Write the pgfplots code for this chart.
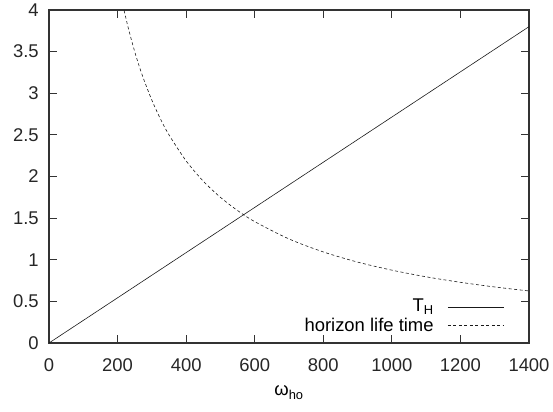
\documentclass[border=0pt]{standalone}
\usepackage{fontspec}
\setmainfont{Liberation Sans}
\usepackage{pgfplots}
\usetikzlibrary{calc}
\pgfplotsset{compat=1.18}
\begin{document}
\fontsize{18.5}{22}\selectfont
\begin{tikzpicture}
\begin{axis}[
  scale only axis,
  width=480bp, height=333bp,
  xmin=0, xmax=1400, ymin=0, ymax=4,
  xtick={0,200,...,1400},
  ytick={0,0.5,...,4},
  yticklabels={0,0.5,1,1.5,2,2.5,3,3.5,4},
  tick align=inside,
  major tick length=8bp,
  every tick/.style={line width=0.9pt, color=black!80},
  axis line style={line width=1.2pt, color=black!80},
  /pgf/number format/assume math mode=true,
  /pgf/number format/1000 sep={},
  tick label style={font=\fontsize{18.5}{22}\selectfont, text=black!85},
  xticklabel style={yshift=-9bp},
  yticklabel style={xshift=-4bp},
  xlabel={ω\textsubscript{ho}},
  xlabel style={font=\fontsize{18.5}{22}\selectfont, yshift=-2bp},
  legend style={draw=none, fill=none, at={(0.955,0.015)}, anchor=south east,
    font=\fontsize{18.5}{22}\selectfont, row sep=-1bp},
  legend cell align=right,
  legend plot pos=right,
  legend image code/.code={\draw[#1] (0bp,0bp) -- (56bp,0bp);},
]
\addplot[black!90, line width=0.6pt] coordinates {(0,0) (1400,3.8)};
\addlegendentry{T\textsubscript{H}\kern12bp}
\addplot[black!90, line width=0.6pt, dash pattern=on 3pt off 2.5pt, smooth] coordinates {
(219,3.995) (230,3.804) (240,3.646) (250,3.5) (260,3.365) (275,3.182) (300,2.917)
(325,2.692) (350,2.5) (400,2.1875) (450,1.944) (500,1.75) (550,1.591) (600,1.458)
(700,1.25) (800,1.094) (900,0.972) (1000,0.875) (1100,0.795) (1200,0.729)
(1300,0.673) (1400,0.625)};
\addlegendentry{horizon life time\kern12bp}
\end{axis}
\pgfresetboundingbox
\path[use as bounding box] ($(current axis.south west)+(-49bp,-69bp)$) rectangle ($(current axis.north east)+(24bp,10bp)$);
\end{tikzpicture}
\end{document}
